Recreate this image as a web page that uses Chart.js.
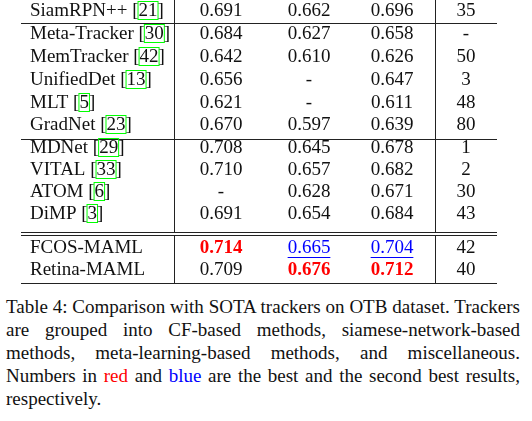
<!DOCTYPE html>
<html>
<head>
<meta charset="utf-8">
<script src="https://cdn.jsdelivr.net/npm/chart.js@4"></script>
<style>
  body { margin: 0; background: #fff; }
  #wrap { position: relative; width: 532px; height: 290px; }
  #caption { font-family: "Liberation Serif", serif; font-size: 19px; line-height: 23px;
    width: 514px; margin: 5px 0 0 6px; text-align: justify; color: #111; }
</style>
</head>
<body>
<div id="wrap"><canvas id="tbl" width="532" height="290"></canvas></div>
<div id="caption">Table 4: Comparison with SOTA trackers on OTB dataset. Trackers are grouped into CF-based methods, siamese-network-based methods, meta-learning-based methods, and miscellaneous. Numbers in <span style="color:#f00">red</span> and <span style="color:#00f">blue</span> are the best and the second best results, respectively.</div>
<script>
// table data
var trackers = ['SiamRPN++', 'Meta-Tracker', 'MemTracker', 'UnifiedDet', 'MLT', 'GradNet',
                'MDNet', 'VITAL', 'ATOM', 'DiMP', 'FCOS-MAML', 'Retina-MAML'];
var refs = ['21', '30', '42', '13', '5', '23', '29', '33', '6', '3', '', ''];
var otb2013 = ['0.691', '0.684', '0.642', '0.656', '0.621', '0.670', '0.708', '0.710', '-', '0.691', '0.714', '0.709'];
var otb2015 = ['0.662', '0.627', '0.610', '-', '-', '0.597', '0.645', '0.657', '0.628', '0.654', '0.665', '0.676'];
var otb50 = ['0.696', '0.658', '0.626', '0.647', '0.611', '0.639', '0.678', '0.682', '0.671', '0.684', '0.704', '0.712'];
var fps = ['35', '-', '50', '3', '48', '80', '1', '2', '30', '43', '42', '40'];
// best = red bold, second = blue underline
var marks = { '10,1': 'best', '10,2': 'second', '10,3': 'second', '11,2': 'best', '11,3': 'best' };

// layout (pixels)
var rowY = [11, 34, 57, 80, 103, 125, 148, 170, 192, 214, 248, 270];
var colX = [30, 221, 309, 392, 466];

var columns = [null, otb2013, otb2015, otb50, fps];
var points = [];
trackers.forEach(function(t, r) {
    for (var c = 0; c < 5; c++) points.push({ x: colX[c], y: rowY[r], r: r, c: c });
});

var FONT = '19px "Liberation Serif", serif';
var BOLD = 'bold 19px "Liberation Serif", serif';

var tablePlugin = {
    id: 'tablePlugin',
    afterDatasetsDraw: function(chart) {
        var ctx = chart.ctx, xs = chart.scales.x, ys = chart.scales.y;
        ctx.save();
        // rules
        ctx.strokeStyle = '#222';
        ctx.lineWidth = 1;
        function hline(y) { ctx.beginPath(); ctx.moveTo(xs.getPixelForValue(21), ys.getPixelForValue(y));
            ctx.lineTo(xs.getPixelForValue(497), ys.getPixelForValue(y)); ctx.stroke(); }
        function vline(x, y0, y1) { ctx.beginPath(); ctx.moveTo(xs.getPixelForValue(x), ys.getPixelForValue(y0));
            ctx.lineTo(xs.getPixelForValue(x), ys.getPixelForValue(y1)); ctx.stroke(); }
        [23.5, 139.5, 232.5, 235.5, 283.5].forEach(hline);
        vline(174.5, 0, 232.5); vline(174.5, 235.5, 283.5);
        vline(435.5, 0, 232.5); vline(435.5, 235.5, 283.5);
        // cells
        ctx.textBaseline = 'middle';
        chart.data.datasets[0].data.forEach(function(p) {
            var px = xs.getPixelForValue(p.x), py = ys.getPixelForValue(p.y);
            if (p.c === 0) {
                ctx.font = FONT; ctx.fillStyle = '#111'; ctx.textAlign = 'left';
                var name = trackers[p.r];
                ctx.fillText(name, px, py);
                if (refs[p.r]) {
                    var x = px + ctx.measureText(name + ' ').width;
                    ctx.fillText('[', x, py);
                    x += ctx.measureText('[').width;
                    var w = ctx.measureText(refs[p.r]).width;
                    ctx.fillText(refs[p.r], x, py);
                    ctx.strokeStyle = '#00ff00'; ctx.lineWidth = 1;
                    ctx.strokeRect(x - 0.5, py - 9.5, w + 1, 18);
                    ctx.fillText(']', x + w, py);
                }
                return;
            }
            var txt = columns[p.c][p.r];
            var m = marks[p.r + ',' + p.c];
            ctx.textAlign = 'center';
            ctx.font = m === 'best' ? BOLD : FONT;
            ctx.fillStyle = m === 'best' ? '#ff0000' : (m === 'second' ? '#0000ff' : '#111');
            ctx.fillText(txt, px, py);
            if (m === 'second') {
                var tw = ctx.measureText(txt).width;
                ctx.strokeStyle = '#0000ff';
                ctx.beginPath(); ctx.moveTo(px - tw / 2, py + 9.5); ctx.lineTo(px + tw / 2, py + 9.5); ctx.stroke();
            }
        });
        ctx.restore();
    }
};

new Chart(document.getElementById('tbl'), {
    type: 'scatter',
    data: { datasets: [{ data: points, pointRadius: 0, pointHoverRadius: 0 }] },
    options: {
        responsive: false, animation: false,
        layout: { padding: 0 },
        plugins: { legend: { display: false }, tooltip: { enabled: false } },
        scales: {
            x: { type: 'linear', min: 0, max: 532, display: false },
            y: { type: 'linear', min: 0, max: 290, reverse: true, display: false }
        }
    },
    plugins: [tablePlugin]
});
</script>
</body>
</html>
